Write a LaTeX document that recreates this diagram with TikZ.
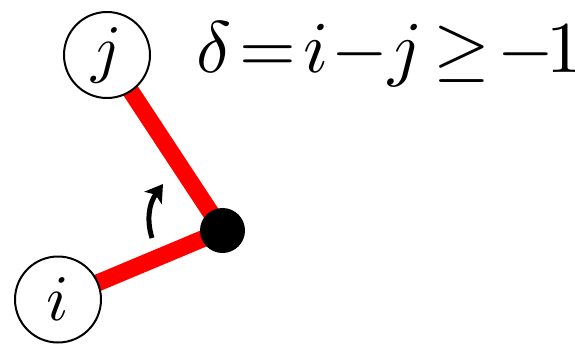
\documentclass[tikz,border=0pt]{standalone}
\usepackage{graphicx}
\usetikzlibrary{arrows.meta}
\begin{document}
\begin{tikzpicture}[x=1pt,y=-1pt,
  site/.style={circle,draw=black,fill=white,line width=2pt,minimum size=86pt,inner sep=0pt},
  bond/.style={red,line width=17pt},
  monomer/.style={circle,fill=black,minimum size=45pt,inner sep=0pt}]
\useasboundingbox (0,0) rectangle (575,345);
\coordinate (cc) at (222.5,230.5);
\coordinate (jc) at (107,55);
\coordinate (ic) at (58,299.5);
\draw[bond] (jc) -- (cc);
\draw[bond] (ic) -- (cc);
\node[monomer] (c) at (cc) {};
\node[site] (j) at (jc) {\scalebox{6.5}{$j$}};
\node[site] (i) at (ic) {\scalebox{6.5}{$i$}};
\node[anchor=base west,inner sep=0pt] (eq) at (196,72) {\scalebox{7.3}{$\delta\kern1.17pt{=}\kern0.92pt i\kern0.45pt{-}j\kern1.5pt{\geq}\kern1pt{-}\kern-1.1pt 1$}};
\coordinate (a0) at (152,238);
\coordinate (a1) at (163,184);
\draw[line width=5pt,-{Stealth[length=17pt,width=21pt,inset=4pt]}] (a0) .. controls (147,222) and (148,205) .. (a1);
\end{tikzpicture}
\end{document}
